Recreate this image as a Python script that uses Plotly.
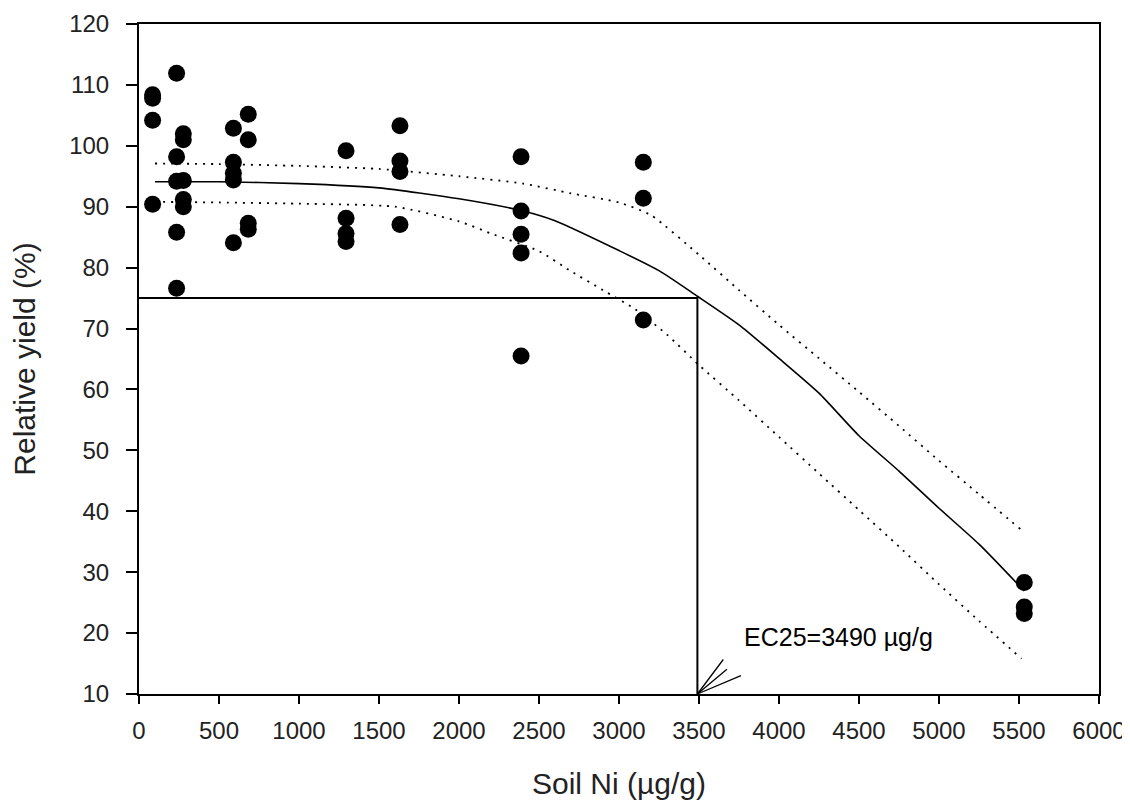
import plotly.graph_objects as go

# Observed data: soil Ni (µg/g) and relative yield (%)
soil_ni = [85, 85, 85, 85,
           235, 235, 235, 235, 235,
           277, 277, 277, 277, 277,
           590, 590, 590, 590, 590,
           683, 683, 683, 683,
           1294, 1294, 1294, 1294,
           1631, 1631, 1631, 1631,
           2388, 2388, 2388, 2388, 2388,
           3152, 3152, 3152,
           5533, 5533, 5533]
rel_yield = [108.4, 107.8, 104.2, 90.4,
             111.9, 98.2, 94.2, 85.8, 76.6,
             102.0, 101.0, 94.3, 91.2, 90.0,
             102.9, 97.3, 95.5, 94.4, 84.1,
             105.2, 101.0, 87.3, 86.3,
             99.2, 88.1, 85.6, 84.3,
             103.3, 97.5, 95.8, 87.1,
             98.2, 89.3, 85.5, 82.4, 65.5,
             97.3, 91.4, 71.4,
             28.3, 24.3, 23.2]

# Fitted curve
fit_x = [100, 500, 1000, 1500, 2000, 2400, 2600, 3000, 3250, 3490, 3750, 4000,
         4250, 4500, 4750, 5000, 5250, 5533]
fit_y = [94.1, 94.1, 93.8, 93.1, 91.3, 89.3, 87.7, 82.8, 79.5, 75.3, 70.6, 65.1,
         59.4, 52.4, 46.6, 40.5, 34.6, 26.9]

# Upper 95% confidence band
up_x = [100, 500, 1000, 1500, 2000, 2400, 2700, 3000, 3200, 3500, 3750, 4000,
        4250, 4500, 4750, 5000, 5250, 5516]
up_y = [97.1, 97.0, 96.7, 96.2, 95.0, 93.8, 92.2, 90.7, 88.6, 82.1, 76.3, 70.6,
        65.1, 59.6, 54.0, 48.3, 42.8, 36.9]

# Lower 95% confidence band
low_x = [100, 500, 1000, 1600, 2000, 2200, 2500, 2700, 2900, 3100, 3300, 3500,
         3750, 4000, 4250, 4500, 4750, 5000, 5250, 5516]
low_y = [90.8, 90.7, 90.5, 90.0, 87.6, 85.6, 82.7, 79.4, 76.3, 73.2, 69.0, 64.0,
         58.2, 52.2, 46.2, 40.2, 34.2, 28.0, 22.0, 15.8]

# EC25 guide lines
ec25 = 3490
ec25_level = 75
y_min = 10
x_min = 0

FONT = "Liberation Sans, Arial, sans-serif"
DOTS = "2px,6px"

fig = go.Figure()

fig.add_trace(go.Scatter(x=up_x, y=up_y, mode="lines",
                         line=dict(color="black", width=1.8, dash=DOTS,
                                   shape="spline", smoothing=0.6),
                         showlegend=False, hoverinfo="skip"))
fig.add_trace(go.Scatter(x=low_x, y=low_y, mode="lines",
                         line=dict(color="black", width=1.8, dash=DOTS,
                                   shape="spline", smoothing=0.6),
                         showlegend=False, hoverinfo="skip"))
fig.add_trace(go.Scatter(x=fit_x, y=fit_y, mode="lines",
                         line=dict(color="black", width=1.6,
                                   shape="spline", smoothing=0.6),
                         showlegend=False))
fig.add_trace(go.Scatter(x=[x_min, ec25, ec25], y=[ec25_level, ec25_level, y_min],
                         mode="lines", line=dict(color="black", width=2),
                         showlegend=False, hoverinfo="skip"))
fig.add_trace(go.Scatter(x=soil_ni, y=rel_yield, mode="markers",
                         marker=dict(color="black", size=17),
                         showlegend=False))

# Arrow fan pointing at EC25 on the x axis
for ax_off, ay_off in [(27, -36), (31, -26), (45, -19)]:
    fig.add_annotation(x=ec25, y=y_min, xref="x", yref="y", text="",
                       showarrow=True, ax=ax_off, ay=ay_off, arrowhead=0,
                       arrowwidth=1.3, arrowcolor="black", standoff=0)

fig.add_annotation(x=3767, y=19.4, xref="x", yref="y", text="EC25=3490 µg/g",
                   showarrow=False, xanchor="left", yanchor="middle",
                   font=dict(family=FONT, size=25, color="black"))

axis_common = dict(showline=True, linecolor="black", linewidth=2, mirror=True,
                   ticks="outside", tickcolor="black", tickwidth=1.5,
                   showgrid=False, zeroline=False, automargin=False,
                   tickfont=dict(family=FONT, size=24, color="#222"))

fig.update_xaxes(range=[0, 6000], tick0=0, dtick=500, ticklen=8,
                 ticklabelstandoff=6,
                 title=dict(text="Soil Ni (µg/g)", standoff=30,
                            font=dict(family=FONT, size=30, color="#222")),
                 **axis_common)
fig.update_yaxes(range=[10, 120], tick0=10, dtick=10, ticklen=11,
                 ticklabelstandoff=12,
                 title=dict(text="Relative yield (%)", standoff=30,
                            font=dict(family=FONT, size=30, color="#222")),
                 **axis_common)

# page body adds an 8px margin at left/top; the figure reaches the window edge
fig.update_layout(width=1122, height=801,
                  margin=dict(l=131, r=31, t=16, b=115),
                  plot_bgcolor="white", paper_bgcolor="white")

fig.write_html("out.html")
